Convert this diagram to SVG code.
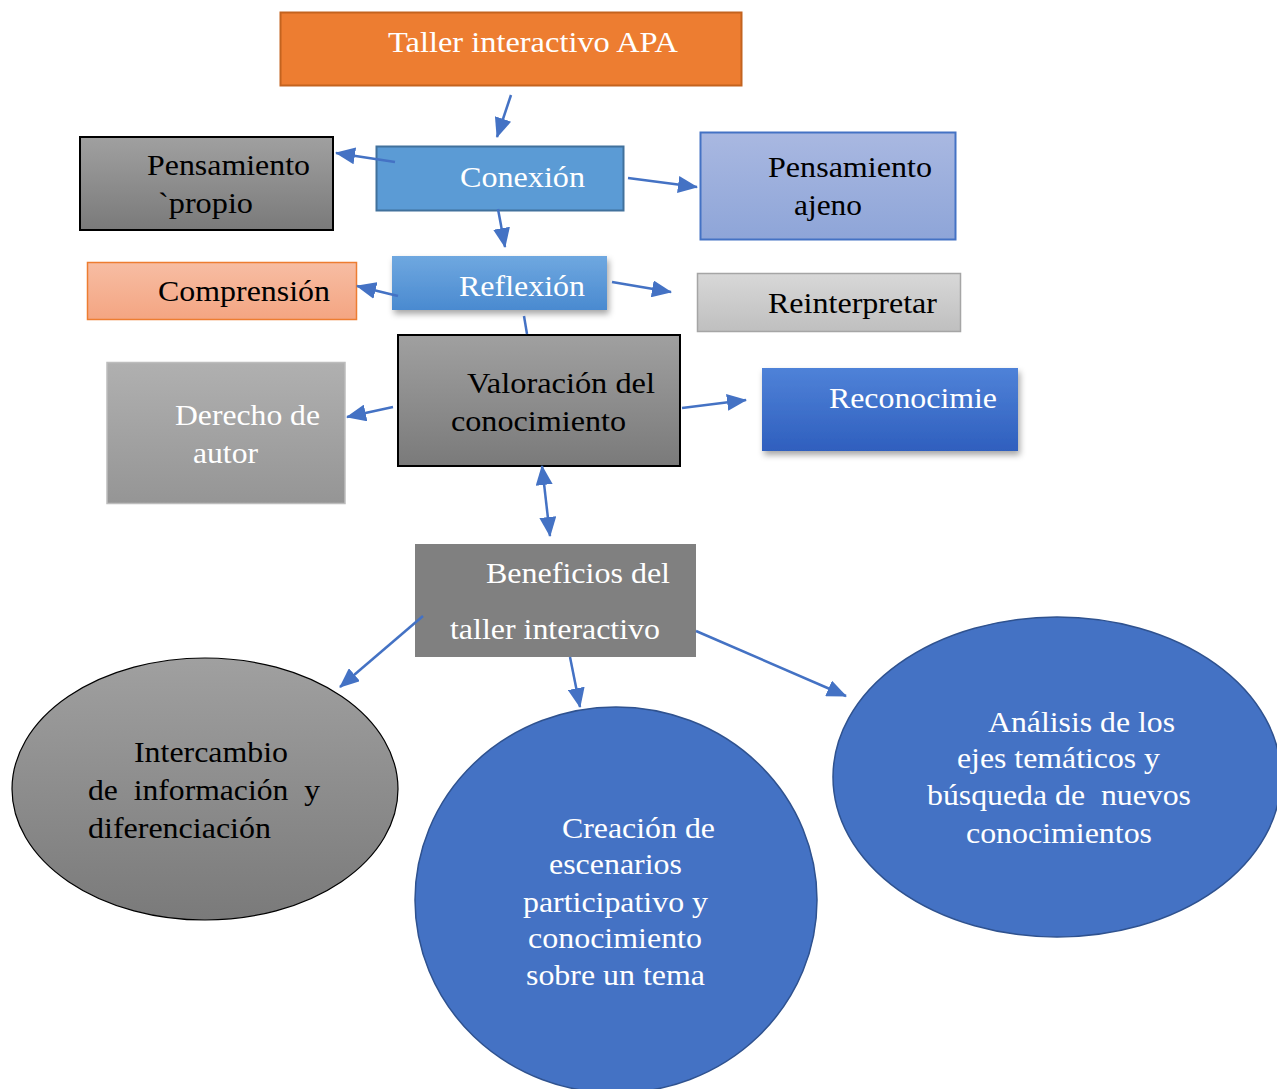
<svg xmlns="http://www.w3.org/2000/svg" width="1277" height="1089" viewBox="0 0 1277 1089">
<style>
text{font-family:"Liberation Serif","Times New Roman",serif;font-size:30px;white-space:pre}
.w{fill:#ffffff}.k{fill:#000000}
.c{stroke:#4472C4;stroke-width:2.5;fill:none}
</style>
<defs>
<marker id="ah" viewBox="0 0 20 17" refX="19" refY="8.5" markerWidth="20" markerHeight="17" orient="auto-start-reverse" markerUnits="userSpaceOnUse">
<path d="M0,0 L20,8.5 L0,17 z" fill="#4472C4"/>
</marker>
<linearGradient id="gDark" x1="0" y1="0" x2="0" y2="1"><stop offset="0" stop-color="#a0a0a0"/><stop offset="1" stop-color="#7a7a7a"/></linearGradient>
<linearGradient id="gAjeno" x1="0" y1="0" x2="0" y2="1"><stop offset="0" stop-color="#a9b8e1"/><stop offset="1" stop-color="#8ea5d8"/></linearGradient>
<linearGradient id="gRefl" x1="0" y1="0" x2="0" y2="1"><stop offset="0" stop-color="#6fa8e0"/><stop offset="1" stop-color="#4a8ad0"/></linearGradient>
<linearGradient id="gComp" x1="0" y1="0" x2="0" y2="1"><stop offset="0" stop-color="#f7bda3"/><stop offset="1" stop-color="#f4a582"/></linearGradient>
<linearGradient id="gRein" x1="0" y1="0" x2="0" y2="1"><stop offset="0" stop-color="#d8d8d8"/><stop offset="1" stop-color="#bfbfbf"/></linearGradient>
<linearGradient id="gDer" x1="0" y1="0" x2="0" y2="1"><stop offset="0" stop-color="#b0b0b0"/><stop offset="1" stop-color="#959595"/></linearGradient>
<linearGradient id="gRec" x1="0" y1="0" x2="0" y2="1"><stop offset="0" stop-color="#4f82d8"/><stop offset="1" stop-color="#2f5fbe"/></linearGradient>
<filter id="sh" x="-10%" y="-10%" width="125%" height="135%"><feDropShadow dx="2" dy="4" stdDeviation="3" flood-color="#000" flood-opacity="0.35"/></filter>
</defs>

<g id="taller">
<rect x="280.5" y="12.5" width="461" height="73" fill="#ED7D31" stroke="#C3631F" stroke-width="2"/>
<text class="w" x="388" y="52" textLength="290" lengthAdjust="spacingAndGlyphs">Taller interactivo APA</text>
</g>

<g id="propio">
<rect x="80" y="137" width="253" height="93" fill="url(#gDark)" stroke="#000" stroke-width="2"/>
<text class="k" x="147" y="175" textLength="163" lengthAdjust="spacingAndGlyphs">Pensamiento</text>
<text class="k" x="158" y="213" textLength="95" lengthAdjust="spacingAndGlyphs">`propio</text>
</g>

<g id="conexion">
<rect x="376.5" y="146.5" width="247" height="64" fill="#5B9BD5" stroke="#41719C" stroke-width="2"/>
<text class="w" x="460" y="187" textLength="125" lengthAdjust="spacingAndGlyphs">Conexión</text>
</g>

<g id="ajeno">
<rect x="700.5" y="132.5" width="255" height="107" fill="url(#gAjeno)" stroke="#4472C4" stroke-width="2"/>
<text class="k" x="768" y="177" textLength="164" lengthAdjust="spacingAndGlyphs">Pensamiento</text>
<text class="k" x="794" y="215" textLength="68" lengthAdjust="spacingAndGlyphs">ajeno</text>
</g>

<g id="reflexion">
<rect x="392" y="256" width="215" height="54" fill="url(#gRefl)" filter="url(#sh)"/>
<text class="w" x="459" y="296" textLength="126" lengthAdjust="spacingAndGlyphs">Reflexión</text>
</g>

<g id="comprension">
<rect x="87.5" y="262.5" width="269" height="57" fill="url(#gComp)" stroke="#ED7D31" stroke-width="1.5"/>
<text class="k" x="158" y="301" textLength="172" lengthAdjust="spacingAndGlyphs">Comprensión</text>
</g>

<g id="reinterpretar">
<rect x="697.5" y="273.5" width="263" height="58" fill="url(#gRein)" stroke="#A5A5A5" stroke-width="1.5"/>
<text class="k" x="768" y="313" textLength="169" lengthAdjust="spacingAndGlyphs">Reinterpretar</text>
</g>

<g id="valoracion">
<rect x="398" y="335" width="282" height="131" fill="url(#gDark)" stroke="#000" stroke-width="2"/>
<text class="k" x="467" y="393" textLength="188" lengthAdjust="spacingAndGlyphs">Valoración del</text>
<text class="k" x="451" y="431" textLength="175" lengthAdjust="spacingAndGlyphs">conocimiento</text>
</g>

<g id="derecho">
<rect x="107" y="362.5" width="238" height="141" fill="url(#gDer)" stroke="#BDBDBD" stroke-width="1.5"/>
<text class="w" x="175" y="425" textLength="145" lengthAdjust="spacingAndGlyphs">Derecho de</text>
<text class="w" x="193" y="463" textLength="65" lengthAdjust="spacingAndGlyphs">autor</text>
</g>

<g id="reconocimie">
<rect x="762" y="368" width="256" height="83" fill="url(#gRec)" filter="url(#sh)"/>
<text class="w" x="829" y="408" textLength="168" lengthAdjust="spacingAndGlyphs">Reconocimie</text>
</g>

<g id="beneficios">
<rect x="415" y="544" width="281" height="113" fill="#808080"/>
<text class="w" x="486" y="583" textLength="184" lengthAdjust="spacingAndGlyphs">Beneficios del</text>
<text class="w" x="450" y="639" textLength="210" lengthAdjust="spacingAndGlyphs">taller interactivo</text>
</g>

<g id="intercambio">
<ellipse cx="205" cy="789" rx="193" ry="131" fill="url(#gDark)" stroke="#000" stroke-width="1.2"/>
<text class="k" x="134" y="762" textLength="154" lengthAdjust="spacingAndGlyphs">Intercambio</text>
<text class="k" x="88" y="800" textLength="232" lengthAdjust="spacingAndGlyphs">de  información  y</text>
<text class="k" x="88" y="838" textLength="183" lengthAdjust="spacingAndGlyphs">diferenciación</text>
</g>

<g id="creacion">
<ellipse cx="616" cy="900" rx="201" ry="193" fill="#4472C4" stroke="#2F528F" stroke-width="1.5"/>
<text class="w" x="562" y="838" textLength="153" lengthAdjust="spacingAndGlyphs">Creación de</text>
<text class="w" x="549" y="874" textLength="133" lengthAdjust="spacingAndGlyphs">escenarios</text>
<text class="w" x="523" y="912" textLength="185" lengthAdjust="spacingAndGlyphs">participativo y</text>
<text class="w" x="528" y="948" textLength="174" lengthAdjust="spacingAndGlyphs">conocimiento</text>
<text class="w" x="526" y="985" textLength="179" lengthAdjust="spacingAndGlyphs">sobre un tema</text>
</g>

<g id="analisis">
<ellipse cx="1057" cy="777" rx="224" ry="160" fill="#4472C4" stroke="#2F528F" stroke-width="1.5"/>
<text class="w" x="988" y="732" textLength="187" lengthAdjust="spacingAndGlyphs">Análisis de los</text>
<text class="w" x="957" y="768" textLength="203" lengthAdjust="spacingAndGlyphs">ejes temáticos y</text>
<text class="w" x="927" y="805" textLength="264" lengthAdjust="spacingAndGlyphs">búsqueda de  nuevos</text>
<text class="w" x="966" y="843" textLength="186" lengthAdjust="spacingAndGlyphs">conocimientos</text>
</g>

<g id="connectors">
<line class="c" x1="511" y1="95" x2="497" y2="137" marker-end="url(#ah)"/>
<line class="c" x1="395" y1="162" x2="336" y2="153" marker-end="url(#ah)"/>
<line class="c" x1="628" y1="178" x2="697" y2="187" marker-end="url(#ah)"/>
<line class="c" x1="498" y1="209" x2="505" y2="247" marker-end="url(#ah)"/>
<line class="c" x1="398" y1="296" x2="357" y2="286" marker-end="url(#ah)"/>
<line class="c" x1="612" y1="282" x2="671" y2="292" marker-end="url(#ah)"/>
<line class="c" x1="524" y1="316" x2="527" y2="334"/>
<line class="c" x1="393" y1="407" x2="347" y2="417" marker-end="url(#ah)"/>
<line class="c" x1="682" y1="408" x2="746" y2="400" marker-end="url(#ah)"/>
<line class="c" x1="542" y1="466" x2="550" y2="536" marker-start="url(#ah)" marker-end="url(#ah)"/>
<line class="c" x1="423" y1="616" x2="340" y2="687" marker-end="url(#ah)"/>
<line class="c" x1="570" y1="657" x2="580" y2="707" marker-end="url(#ah)"/>
<line class="c" x1="696" y1="631" x2="846" y2="696" marker-end="url(#ah)"/>
</g>
</svg>
